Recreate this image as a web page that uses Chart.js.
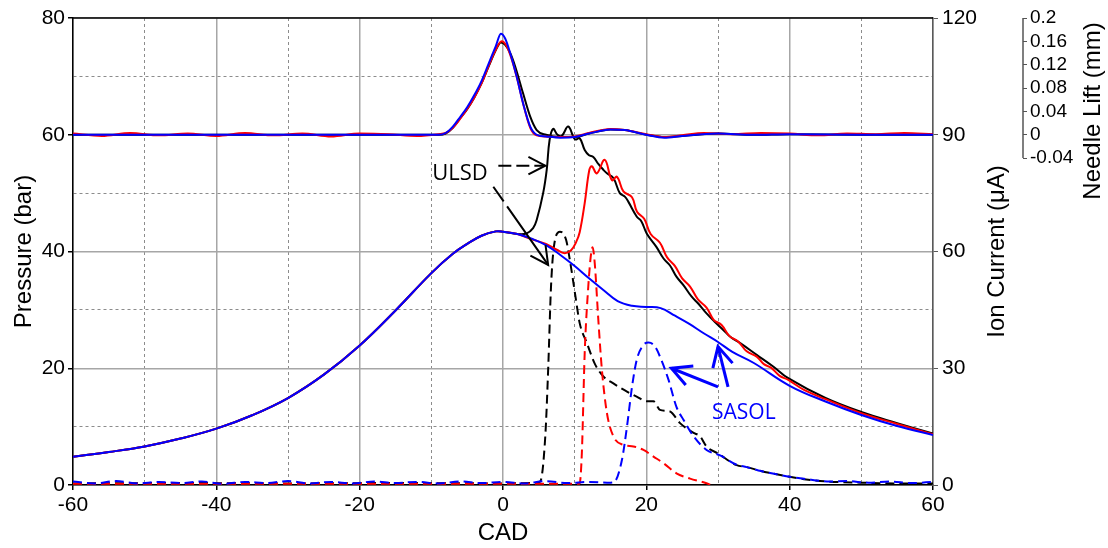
<!DOCTYPE html>
<html>
<head>
<meta charset="utf-8">
<script src="https://cdn.jsdelivr.net/npm/chart.js@4.4.1/dist/chart.umd.min.js"></script>
<style>
  html, body { margin: 0; padding: 0; background: #fff; }
</style>
</head>
<body>
<canvas id="chart" width="1108" height="548"></canvas>
<script>
// ---- data (CAD in degrees, pressure in bar, ion current in uA, needle lift in mm) ----

// compression part, shared by all three fuels
const compCad   = [-60, -55, -50, -45, -40, -35, -30, -25, -20, -15, -10, -7, -5, -3, -1, 0, 2]
const compPress = [4.85, 5.65, 6.6, 7.95, 9.65, 11.95, 14.9, 18.9, 23.9, 29.9, 36.3, 39.6, 41.3, 42.7, 43.45, 43.4, 43.0]

// SASOL (blue) pressure after TDC
const sasolCad   = [4, 6, 8, 10, 12, 14, 16, 18, 20, 22, 24, 26, 28, 30, 32, 35, 40, 45, 50, 55, 60]
const sasolPress = [42.2, 41.1, 39.4, 37.5, 35.4, 33.4, 31.5, 30.7, 30.5, 30.3, 29.0, 27.6, 26.0, 24.5, 22.8, 20.9, 17.0, 14.3, 12.0, 10.1, 8.57]

// red fuel pressure after TDC
const redCad   = [4, 6, 7.5, 8.6, 9.5, 10.2, 10.7, 11.4, 12.05, 12.4, 13.1, 14.2, 15.2, 15.9, 16.8, 18.0, 18.7, 19.7, 20.6, 21.9, 22.9, 24.0, 25.0, 26.1, 27.2, 28.4, 29.4, 30.5, 31.6, 32.8, 34.0, 35.4, 36.4, 37.4, 38.6, 39.8, 42, 45, 50, 55, 60]
const redPress = [42.1, 41.3, 40.3, 39.7, 40.2, 41.6, 43.3, 48.3, 54.0, 54.6, 53.4, 55.7, 52.2, 52.8, 50.3, 49.3, 46.8, 45.6, 43.0, 41.5, 39.0, 37.5, 35.4, 34.0, 31.8, 30.4, 28.3, 27.4, 25.5, 24.6, 22.9, 22.0, 20.7, 20.1, 18.7, 18.0, 16.3, 14.7, 12.3, 10.45, 8.68]

// ULSD (black) pressure after TDC
const ulsdCad   = [3.3, 4.2, 4.7, 5.6, 6.1, 6.5, 7.0, 7.6, 8.2, 9.1, 10.05, 10.7, 11.4, 12.0, 12.6, 13.3, 14.0, 14.5, 15.4, 16.3, 17.0, 17.5, 18.65, 19.3, 20.05, 21.4, 22.4, 23.3, 24.2, 25.2, 26.3, 27.3, 28.4, 29.5, 30.7, 31.8, 33.1, 35.4, 37.7, 39.8, 45, 50, 55, 60]
const ulsdPress = [43.1, 44.0, 45.4, 50.0, 54.0, 59.1, 61.0, 60.0, 59.8, 61.4, 59.2, 59.4, 57.4, 56.5, 56.2, 55.0, 54.0, 53.4, 52.6, 50.0, 49.4, 48.5, 46.0, 45.2, 43.1, 40.8, 38.8, 37.6, 35.7, 34.2, 32.3, 31.0, 29.4, 28.0, 26.6, 25.3, 24.3, 22.3, 20.3, 18.3, 14.9, 12.5, 10.6, 8.8]

// ion current
const ulsdIonCad = [-60, -45, -30, -15, 0, 4.5, 5.2, 5.9, 6.3, 6.7, 7.1, 7.95, 8.8, 9.4, 10.05, 10.7, 11.7, 12.8, 14.0, 15.4, 17.3, 18.65, 20.05, 21.0, 21.9, 23.3, 24.7, 26.6, 27.5, 28.4, 30.0, 32.6, 34, 36, 38, 40, 42, 45.6, 50, 55, 60]
const ulsdIon    = [0.4, 0.5, 0.4, 0.5, 0.4, 0.5, 0.9, 12.5, 29.6, 51.0, 61.2, 65.1, 63.0, 57.0, 49.2, 41.6, 36.5, 31.2, 27.9, 26.1, 24.0, 22.7, 21.5, 21.5, 19.3, 18.9, 15.9, 13.4, 12.5, 9.9, 8.1, 5.1, 4.6, 3.6, 2.8, 2.1, 1.5, 0.85, 0.6, 0.4, 0.4]

const redIonCad = [-60, 10.5, 10.7, 11.0, 11.4, 11.9, 12.3, 12.5, 12.8, 13.3, 13.8, 14.5, 15.4, 16.8, 18.2, 19.6, 21.0, 22.4, 24.2, 26.1, 28.4, 29]
const redIon    = [0.3, 0.3, 0.45, 8.1, 33.9, 51.0, 59.6, 61.1, 57.0, 42.5, 29.6, 18.5, 12.5, 10.3, 9.9, 9.0, 7.3, 5.6, 3.0, 1.65, 0.45, 0]

const sasolIonCad = [-60, -57, -54, -51, -48, -45, -42, -39, -36, -33, -30, -27, -24, -21, -18, -15, -12, -9, -6, -3, 0, 3, 6, 9, 12, 15, 15.6, 16.6, 17.3, 18.0, 18.65, 19.6, 20.3, 21.2, 22.1, 23.1, 24.2, 25.2, 26.6, 28.4, 30.3, 32.6, 34, 36, 38, 40, 42, 45.6, 48, 51, 54, 57, 60]
const sasolIon    = [0.9, 0.4, 1.0, 0.4, 0.8, 0.5, 0.9, 0.3, 0.8, 0.5, 1.0, 0.4, 0.8, 0.4, 0.9, 0.5, 0.8, 0.4, 0.9, 0.5, 0.8, 0.4, 1.0, 0.5, 0.8, 0.6, 0.9, 6.5, 15.0, 25.2, 32.1, 36.0, 36.6, 35.6, 32.1, 27.0, 20.1, 16.7, 12.5, 9.0, 7.6, 5.2, 4.6, 3.6, 2.8, 2.1, 1.6, 0.9, 1.0, 0.6, 0.9, 0.5, 0.8]

// needle lift
const ulsdLiftCad = [-60, -40, -20, -10, -9, -8, -7, -6, -5, -4, -3, -2, -1, -0.3, 0.3, 1, 1.7, 2.8, 3.8, 4.7, 6, 8, 10, 12, 15, 17, 20, 22.5, 25, 30, 35, 40, 50, 60]
const ulsdLift    = [0, 0, 0, 0, 0, 0.002, 0.012, 0.028, 0.044, 0.064, 0.088, 0.117, 0.145, 0.158, 0.154, 0.14, 0.117, 0.071, 0.031, 0.008, 0, -0.004, -0.004, 0.002, 0.009, 0.008, 0, -0.004, -0.002, 0.002, 0, 0.001, 0, 0]

const sasolLiftCad = [-60, -40, -20, -10, -9, -8, -7, -6, -5, -4, -3, -2, -1, -0.3, 0.3, 1, 1.9, 2.8, 3.8, 4.7, 6, 8, 10, 12, 15, 17, 20, 22.5, 25, 30, 35, 40, 50, 60]
const sasolLift    = [0, 0, 0, 0, 0, 0.003, 0.014, 0.03, 0.047, 0.068, 0.092, 0.122, 0.152, 0.173, 0.165, 0.14, 0.1, 0.054, 0.014, 0, -0.003, -0.005, -0.004, 0.002, 0.009, 0.008, 0, -0.005, -0.002, 0.002, 0, 0.001, 0, 0]

const redLiftCad = [-60, -56, -52, -48, -44, -40, -36, -32, -28, -24, -20, -16, -12, -9, -8, -7, -6, -5, -4, -3, -2, -1, -0.2, 0.5, 1.2, 2, 2.8, 3.8, 4.7, 6, 8, 10, 12, 15, 17, 20, 22.5, 25, 28, 32, 36, 40, 44, 48, 52, 56, 60]
const redLift    = [0.002, -0.002, 0.003, -0.001, 0.002, -0.002, 0.003, -0.001, 0.002, -0.003, 0.002, 0.001, -0.002, 0.001, 0.003, 0.012, 0.027, 0.044, 0.064, 0.088, 0.118, 0.146, 0.160, 0.152, 0.13, 0.095, 0.054, 0.012, -0.001, -0.003, -0.004, -0.003, 0.003, 0.01, 0.008, 0.001, -0.004, -0.001, 0.003, 0.001, 0.003, 0.002, -0.001, 0.002, 0.001, 0.003, 0.001]

// axis tick values
const cadTicks = [-60, -40, -20, 0, 20, 40, 60]
const pressTicks = [0, 20, 40, 60, 80]
const ionTicks = [0, 30, 60, 90, 120]
const liftTicks = [-0.04, 0, 0.04, 0.08, 0.12, 0.16, 0.2]


// ---- helpers ----
function pts(xs, ys) {
    return xs.map((x, i) => ({x: x, y: ys[i]}))
}

const FONT = "'Liberation Sans', Arial, sans-serif"
const BLACK = '#000000', RED = '#ff0000', BLUE = '#0000ff'

function isMajor(ctx, list) {
    return ctx.tick && list.indexOf(ctx.tick.value) >= 0
}
const gridColor = list => ctx => isMajor(ctx, list) ? '#a6a6a6' : '#8c8c8c'
const gridWidth = list => ctx => isMajor(ctx, list) ? 1.5 : 1
const gridDash = list => ctx => (!ctx.tick || isMajor(ctx, list)) ? [] : [3, 3]
const tickCol = list => ctx => isMajor(ctx, list) ? '#000' : 'rgba(0,0,0,0)'

// smooth: pressure traces use bezier tension, sharp traces use monotone
function line(data, color, axis, dashed, smooth) {
    let ds = {
        data: data, borderColor: color, backgroundColor: color,
        borderWidth: 2, borderDash: dashed ? [9, 5] : [],
        pointRadius: 0, fill: false, yAxisID: axis
    }
    if (smooth) ds.tension = 0.4
    else ds.cubicInterpolationMode = 'monotone'
    return ds
}

function arrow(ctx, x0, y0, x1, y1, len, dash) {
    ctx.setLineDash(dash || [])
    ctx.beginPath(); ctx.moveTo(x0, y0); ctx.lineTo(x1, y1); ctx.stroke()
    ctx.setLineDash([])
    const a = Math.atan2(y1 - y0, x1 - x0), s = 0.48
    ctx.beginPath()
    ctx.moveTo(x1 - len * Math.cos(a - s), y1 - len * Math.sin(a - s))
    ctx.lineTo(x1, y1)
    ctx.lineTo(x1 - len * Math.cos(a + s), y1 - len * Math.sin(a + s))
    ctx.stroke()
}

// frame, right-hand titles, needle-lift axis line and the fuel annotations
const extras = {
    id: 'extras',
    afterDraw(chart) {
        const {ctx, chartArea: a, scales} = chart
        const sx = scales.x, sy = scales.y, yi = scales.yIon, yl = scales.yLift
        const px = v => sx.getPixelForValue(v), py = v => sy.getPixelForValue(v)
        ctx.save()

        // top border of plot
        ctx.strokeStyle = '#000'; ctx.lineWidth = 1.5
        ctx.beginPath(); ctx.moveTo(a.left, a.top); ctx.lineTo(a.right, a.top); ctx.stroke()

        // needle lift axis line only over its own range
        ctx.strokeStyle = '#555'
        ctx.beginPath()
        ctx.moveTo(yl.left, yl.getPixelForValue(liftTicks[0]))
        ctx.lineTo(yl.left, yl.getPixelForValue(liftTicks[liftTicks.length - 1]))
        ctx.stroke()

        // titles of the right axes (read bottom to top)
        ctx.fillStyle = '#000'; ctx.font = '24px ' + FONT
        ctx.textAlign = 'center'; ctx.textBaseline = 'middle'
        ctx.save(); ctx.translate(yi.left + 64, (a.top + a.bottom) / 2); ctx.rotate(-Math.PI / 2)
        ctx.fillText('Ion Current (\u03bcA)', 0, 0); ctx.restore()
        ctx.save(); ctx.translate(yl.left + 70, a.top + 93); ctx.rotate(-Math.PI / 2)
        ctx.fillText('Needle Lift (mm)', 0, 0); ctx.restore()

        // ULSD annotation
        ctx.font = "22px 'Open Sans', sans-serif"
        ctx.fillText('ULSD', px(-6.0), py(53.4))
        ctx.strokeStyle = BLACK; ctx.lineWidth = 2
        arrow(ctx, px(-0.65), py(54.7), px(5.9), py(54.7), 19, [13, 5, 13, 5, 400, 0])
        arrow(ctx, px(-1.35), py(51.1), px(6.3), py(37.7), 20, [18, 6, 400, 0])

        // SASOL annotation
        ctx.font = "21px 'Open Sans', sans-serif"
        ctx.fillStyle = BLUE; ctx.strokeStyle = BLUE; ctx.lineWidth = 3
        ctx.fillText('SASOL', px(33.6), py(12.3))
        arrow(ctx, px(30.0), py(16.8), px(23.5), py(20.0), 22)
        arrow(ctx, px(31.4), py(16.8), px(30.0), py(23.7), 22)
        ctx.restore()
    }
}

window.onload = function() {
    Chart.defaults.font.family = FONT
    Chart.defaults.color = '#000'

    let canvas = document.getElementById('chart')

    let chart = new Chart(canvas, {
        type: 'line',
        data: {
            datasets: [
                // needle lift
                line(pts(sasolLiftCad, sasolLift), BLUE, 'yLift'),
                line(pts(redLiftCad, redLift), RED, 'yLift'),
                line(pts(ulsdLiftCad, ulsdLift), BLACK, 'yLift'),
                // pressure
                line(pts(compCad.concat(sasolCad), compPress.concat(sasolPress)), BLUE, 'y', false, true),
                line(pts(compCad.concat(redCad), compPress.concat(redPress)), RED, 'y', false, true),
                line(pts(compCad.concat(ulsdCad), compPress.concat(ulsdPress)), BLACK, 'y', false, true),
                // ion current
                line(pts(sasolIonCad, sasolIon), BLUE, 'yIon', true),
                line(pts(redIonCad, redIon), RED, 'yIon', true),
                line(pts(ulsdIonCad, ulsdIon), BLACK, 'yIon', true)
            ]
        },
        options: {
            responsive: false,
            animation: false,
            layout: {padding: {top: 18, left: 0, right: 0, bottom: 0}},
            plugins: {legend: {display: false}, tooltip: {enabled: false}},
            scales: {
                x: {
                    type: 'linear', min: -60, max: 60, position: 'bottom',
                    ticks: {stepSize: 10, autoSkip: false, maxRotation: 0, padding: 3,
                        font: {size: 21}, callback: v => cadTicks.indexOf(v) >= 0 ? v : ''},
                    grid: {color: gridColor(cadTicks), lineWidth: gridWidth(cadTicks), tickLength: 5, tickColor: tickCol(cadTicks)},
                    border: {color: '#000', width: 1.5, dash: gridDash(cadTicks)},
                    title: {display: true, text: 'CAD', font: {size: 24}, padding: {top: 0, bottom: 0}},
                    afterFit: s => { s.height = 63 }
                },
                y: {
                    type: 'linear', min: 0, max: 80, position: 'left',
                    ticks: {stepSize: 10, padding: 3, font: {size: 21},
                        callback: v => pressTicks.indexOf(v) >= 0 ? v : ''},
                    grid: {color: gridColor(pressTicks), lineWidth: gridWidth(pressTicks), tickLength: 5, tickColor: tickCol(pressTicks)},
                    border: {color: '#000', width: 1.5, dash: gridDash(pressTicks)},
                    title: {display: true, text: 'Pressure (bar)', font: {size: 24}, padding: {top: 10, bottom: 0}},
                    afterFit: s => { s.width = 73 }
                },
                yIon: {
                    type: 'linear', min: 0, max: 120, position: 'right', weight: 0,
                    ticks: {stepSize: 30, padding: 4, font: {size: 21}},
                    grid: {drawOnChartArea: false, tickLength: 5, tickColor: '#595959'},
                    border: {color: '#595959', width: 1.5},
                    afterFit: s => { s.width = 90 }
                },
                yLift: {
                    type: 'linear', min: -0.6, max: 0.2, position: 'right', weight: 1,
                    afterBuildTicks: s => { s.ticks = liftTicks.map(v => ({value: v})) },
                    ticks: {padding: 3, font: {size: 19},
                        callback: v => String(Number(v.toFixed(2)))},
                    grid: {drawOnChartArea: false, tickLength: 4, tickColor: '#555'},
                    border: {display: false},
                    afterFit: s => { s.width = 85 }
                }
            }
        },
        plugins: [extras]
    })
}
</script>
</body>
</html>
